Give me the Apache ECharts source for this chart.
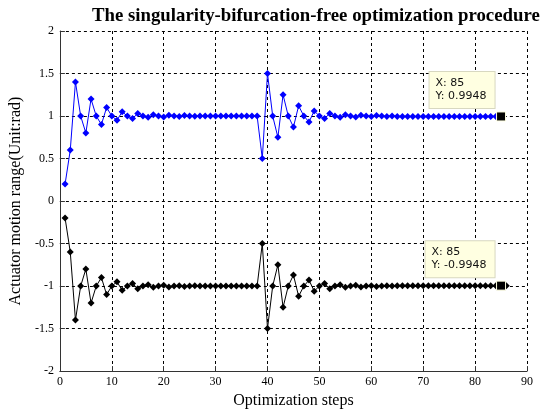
<!DOCTYPE html>
<html>
<head>
<meta charset="utf-8">
<script src="https://cdn.jsdelivr.net/npm/echarts@6/dist/echarts.min.js"></script>
<style>
  html, body { margin: 0; padding: 0; background: #fff; }
  #chart { width: 547px; height: 414px; }
</style>
</head>
<body>
<div id="chart"></div>
<script>
// 优化步数 (x)
const steps = [];
for (let i = 1; i <= 86; i++) steps.push(i);

// 上支 (蓝色), 步 1..85
const upperValues = [
  0.2, 0.6, 1.4, 1.0, 0.8, 1.2, 1.0, 0.9, 1.1, 1.0,
  0.95, 1.05, 1.0, 0.97, 1.03, 1.0, 0.985, 1.015, 1.0, 0.99,
  1.01, 1.0, 0.995, 1.005, 1.0, 0.997, 1.0, 1.0, 1.0, 1.0,
  1.0, 1.0, 1.0, 1.0, 1.0, 1.0, 1.0, 1.0, 0.5, 1.5,
  1.0, 0.75, 1.25, 1.0, 0.87, 1.12, 1.0, 0.93, 1.06, 1.0,
  0.97, 1.03, 1.0, 0.985, 1.015, 1.0, 0.99, 1.01, 1.0, 0.995,
  1.005, 1.0, 0.995, 1.0, 0.995, 0.995, 0.995, 0.995, 0.995, 0.995,
  0.995, 0.995, 0.995, 0.995, 0.995, 0.995, 0.995, 0.995, 0.995, 0.995,
  0.995, 0.995, 0.995, 0.995, 0.9948
];

// 下支 (黑色), 步 1..86
const lowerValues = [
  -0.2, -0.6, -1.4, -1.0, -0.8, -1.2, -1.0, -0.9, -1.1, -1.0,
  -0.95, -1.05, -1.0, -0.97, -1.03, -1.0, -0.985, -1.015, -1.0, -0.99,
  -1.01, -1.0, -0.995, -1.005, -1.0, -0.997, -1.0, -1.0, -1.0, -1.0,
  -1.0, -1.0, -1.0, -1.0, -1.0, -1.0, -1.0, -1.0, -0.5, -1.5,
  -1.0, -0.75, -1.25, -1.0, -0.87, -1.12, -1.0, -0.93, -1.06, -1.0,
  -0.97, -1.03, -1.0, -0.985, -1.015, -1.0, -0.99, -1.01, -1.0, -0.995,
  -1.005, -1.0, -0.995, -1.0, -0.995, -0.995, -0.995, -0.995, -0.995, -0.995,
  -0.995, -0.995, -0.995, -0.995, -0.995, -0.995, -0.995, -0.995, -0.995, -0.995,
  -0.995, -0.995, -0.995, -0.995, -0.9948, -0.995
];

// 数据提示点
const tipX = 85;
const tipUpper = 0.9948;
const tipLower = -0.9948;

const serif = '"Liberation Serif", "Times New Roman", serif';

function pairs(values) {
  return values.map((v, i) => [steps[i], v]);
}

// 数据提示框 (类似 MATLAB datatip)
function tipPoint(x, y, offset, textWidth) {
  return {
    coord: [x, y],
    symbol: 'rect',
    symbolSize: 9,
    itemStyle: { color: '#000', borderColor: '#ffffe1', borderWidth: 1 },
    label: {
      show: true,
      position: offset,
      align: 'right',
      verticalAlign: 'bottom',
      formatter: '{t|X: ' + x + '}\n{t|Y: ' + y + '}',
      backgroundColor: '#ffffe1',
      borderColor: '#d8d8c0',
      borderWidth: 1,
      padding: [5, 6, 5, 6],
      rich: {
        t: {
          width: textWidth,
          align: 'left',
          fontFamily: '"DejaVu Sans", sans-serif',
          fontSize: 11,
          lineHeight: 13,
          color: '#111'
        }
      }
    }
  };
}

const chart = echarts.init(document.getElementById('chart'));

const option = {
  animation: false,
  backgroundColor: '#fff',
  title: {
    text: 'The singularity-bifurcation-free optimization procedure',
    left: 87,
    top: 2,
    textStyle: {
      fontFamily: serif,
      fontWeight: 'bold',
      fontSize: 18.8,
      color: '#000'
    }
  },
  grid: {
    left: 50.5,
    right: 20,
    top: 31,
    bottom: 38
  },
  xAxis: {
    type: 'value',
    min: 0,
    max: 90,
    interval: 10,
    name: 'Optimization steps',
    nameLocation: 'middle',
    nameGap: 20,
    nameTextStyle: { fontFamily: serif, fontSize: 16, color: '#000' },
    axisLine: { show: true, onZero: false, lineStyle: { color: '#333', width: 1 } },
    axisTick: { show: true, inside: true, length: 5, lineStyle: { color: '#333' } },
    axisLabel: { fontFamily: serif, fontSize: 12, color: '#000', margin: 5 },
    splitLine: {
      show: true,
      lineStyle: { color: '#000', type: [3, 3], width: 1 }
    }
  },
  yAxis: {
    type: 'value',
    min: -2,
    max: 2,
    interval: 0.5,
    name: 'Actuator motion range(Unit:rad)',
    nameLocation: 'middle',
    nameGap: 22,
    nameTextStyle: { fontFamily: serif, fontSize: 16, color: '#000' },
    axisLine: { show: true, onZero: false, lineStyle: { color: '#333', width: 1 } },
    axisTick: { show: true, inside: true, length: 5, lineStyle: { color: '#333' } },
    axisLabel: { fontFamily: serif, fontSize: 12, color: '#000', margin: 6 },
    splitLine: {
      show: true,
      lineStyle: { color: '#000', type: [3, 3], width: 1 }
    }
  },
  series: [
    {
      type: 'line',
      data: pairs(upperValues),
      symbol: 'diamond',
      symbolSize: 7,
      lineStyle: { color: '#0000ff', width: 1 },
      itemStyle: { color: '#0000ff' },
      markPoint: {
        data: [tipPoint(tipX, tipUpper, [-1.5, -3.5], 53)]
      }
    },
    {
      type: 'line',
      data: pairs(lowerValues),
      symbol: 'diamond',
      symbolSize: 7,
      lineStyle: { color: '#000', width: 1 },
      itemStyle: { color: '#000' },
      markPoint: {
        data: [tipPoint(tipX, tipLower, [-1.5, -3.5], 57)]
      }
    }
  ]
};

chart.setOption(option);
</script>
</body>
</html>
